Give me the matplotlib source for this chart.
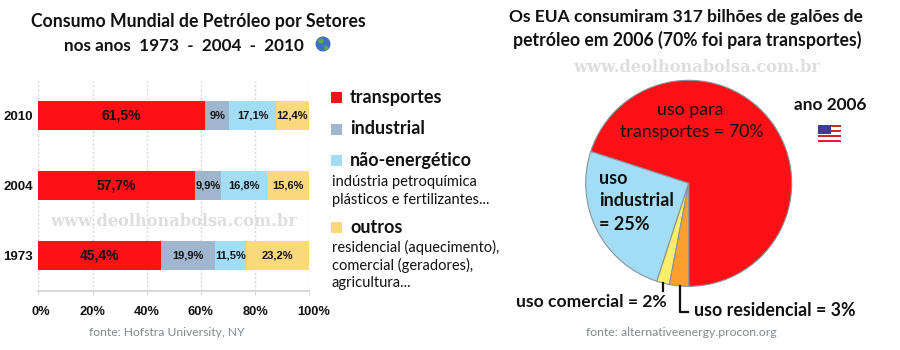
import matplotlib
matplotlib.use("Agg")
import matplotlib.pyplot as plt
from matplotlib.patches import Circle, Ellipse, Rectangle
from matplotlib.transforms import ScaledTranslation

W, H = 900, 350

# grafico de barras
anos = ["1973", "2004", "2010"]
setores = ["transportes", "industrial", "não-energético", "outros"]
transportes = [45.4, 57.7, 61.5]
industrial = [19.9, 9.9, 9.0]
nao_energetico = [11.5, 16.8, 17.1]
outros = [23.2, 15.6, 12.4]
rotulos_barras = [
    ["45,4%", "57,7%", "61,5%"],
    ["19,9%", "9,9%", "9%"],
    ["11,5%", "16,8%", "17,1%"],
    ["23,2%", "15,6%", "12,4%"],
]
ticks_x = [0, 20, 40, 60, 80, 100]

# grafico de pizza
usos_eua = [70, 25, 2, 3]

VERMELHO = "#FF0F16"
CINZA_AZUL = "#A0B6CE"
AZUL_CLARO = "#A3DCF5"
AMARELO = "#FAD87C"
COR_FONTE = "#808890"
COR_MARCA = "#DEDEDE"

TEXTO = ["Lato", "DejaVu Sans"]
ESTREITA = ["Liberation Sans"]
SERIFA = ["DejaVu Serif"]


def eixo_px(fig, x0, y0, x1, y1):
    """Cria eixo a partir de pixels (origem no canto superior esquerdo)."""
    return fig.add_axes([x0 / W, 1 - y1 / H, (x1 - x0) / W, (y1 - y0) / H])


fig = plt.figure(figsize=(W / 100, H / 100), dpi=100, facecolor="white")

# ---------------------------------------------------------------------------
# Barras empilhadas
# ---------------------------------------------------------------------------
ax = eixo_px(fig, 38.3, 80.5, 309.3, 291)
ax.set_xlim(0, 100)
ax.set_ylim(-0.5, 2.5)
ax.set_axisbelow(True)
ax.xaxis.grid(True, color="#D8D8D8", linestyle=(0, (1.5, 1.5)), linewidth=1)

series = [transportes, industrial, nao_energetico, outros]
cores = [VERMELHO, CINZA_AZUL, AZUL_CLARO, AMARELO]
base = [0, 0, 0]
for i, (valores, cor) in enumerate(zip(series, cores)):
    ax.barh(range(3), valores, left=base, height=0.414, color=cor)
    for j, v in enumerate(valores):
        ax.text(base[j] + v / 2, j, rotulos_barras[i][j], ha="center", va="center",
                family=ESTREITA, fontweight="bold", color="#111111",
                fontsize=10 if i == 0 else 8)
    base = [b + v for b, v in zip(base, valores)]

for lado in ["top", "left", "right"]:
    ax.spines[lado].set_visible(False)
ax.spines["bottom"].set_color("#D8D8D8")
ax.spines["bottom"].set_linewidth(1.5)
ax.set_xticks(ticks_x)
ax.set_xticklabels([f"{t}%" for t in ticks_x], family=ESTREITA, fontweight="bold",
                   fontsize=9.3, color="#111111")
ax.set_yticks(range(3))
ax.set_yticklabels(anos, family=ESTREITA, fontweight="bold", fontsize=9.5, color="#111111")
ax.tick_params(axis="x", length=3, color="#D8D8D8", pad=8)
ax.tick_params(axis="y", length=0, pad=4)
# rotulos extremos do eixo levemente deslocados, como no original
for rotulo, dx in zip(ax.get_xticklabels(), [3, 0, 0, 0, 0, 4]):
    rotulo.set_transform(rotulo.get_transform() + ScaledTranslation(dx / 100, 0, fig.dpi_scale_trans))

# ---------------------------------------------------------------------------
# Pizza EUA
# ---------------------------------------------------------------------------
ax_pizza = eixo_px(fig, 585.7, 80.3, 791.7, 286.3)
ax_pizza.pie(usos_eua, colors=[VERMELHO, AZUL_CLARO, "#FBEE6B", "#FD9F2F"], startangle=-90,
             counterclock=True, radius=1,
             wedgeprops={"edgecolor": "#8A9299", "linewidth": 0.8})
ax_pizza.set_xlim(-1, 1)
ax_pizza.set_ylim(-1, 1)

# ---------------------------------------------------------------------------
# Camada de textos e icones, em pixels
# ---------------------------------------------------------------------------
cam = fig.add_axes([0, 0, 1, 1], facecolor="none")
cam.set_xlim(0, W)
cam.set_ylim(H, 0)
cam.axis("off")


def txt(x, y, s, size=12, weight="bold", ha="left", color="#111111", family=TEXTO):
    cam.text(x, y, s, fontsize=size, fontweight=weight, ha=ha, va="center",
             color=color, family=family)


txt(198, 22, "Consumo Mundial de Petróleo por Setores", 12.7, ha="center")
txt(184, 46, "nos anos  1973  -  2004  -  2010", 12.3, ha="center")
txt(685.5, 17, "Os EUA consumiram 317 bilhões de galões de", 12.55, ha="center")
txt(687, 40, "petróleo em 2006 (70% foi para transportes)", 12.7, ha="center")

# legenda
for y, nome, cor in zip([97.5, 129, 160.5, 227.5], setores, cores):
    cam.add_patch(Rectangle((331, y - 5.5), 11, 11, color=cor, lw=0))
    txt(350, y, nome, 13)
for y, s in zip([182, 200], ["indústria petroquímica", "plásticos e fertilizantes..."]):
    txt(332, y, s, 10.5, weight="normal")
for y, s in zip([247, 265, 283], ["residencial (aquecimento),", "comercial (geradores),", "agricultura..."]):
    txt(332, y, s, 10.5, weight="normal")

txt(167, 332, "fonte: Hofstra University, NY", 8.7, weight="normal", ha="center", color=COR_FONTE)
txt(681, 333, "fonte: alternativeenergy.procon.org", 8.8, weight="normal", ha="center", color=COR_FONTE)

# marca d'agua
txt(174, 222, "www.deolhonabolsa.com.br", 11.7, ha="center", color=COR_MARCA, family=SERIFA)
txt(697, 67, "www.deolhonabolsa.com.br", 11.7, ha="center", color=COR_MARCA, family=SERIFA)

# rotulos da pizza
txt(690, 110, "uso para", 12.8, ha="center", weight="normal")
txt(692, 132, "transportes = 70%", 12.8, ha="center", weight="normal")
txt(599, 178, "uso", 13)
txt(599, 201, "industrial", 13)
txt(599, 224, "= 25%", 13)
txt(830, 105, "ano 2006", 12.4, ha="center")
txt(516, 302, "uso comercial = 2%", 12.6)
txt(694, 311, "uso residencial = 3%", 12.75)

# linhas de chamada
cam.plot([662.7, 662.7], [283, 291], color="#111111", lw=1.6)
cam.plot([680, 680, 688], [286, 311.5, 311.5], color="#111111", lw=1.6)

# icone globo
cam.add_patch(Circle((323, 44), 7.5, color="#3F6FC4", lw=0))
cam.add_patch(Ellipse((321, 41), 6, 5, color="#5FA84A", lw=0))
cam.add_patch(Ellipse((326, 48), 4, 5, color="#5FA84A", lw=0))

# icone bandeira
for k in range(7):
    cam.add_patch(Rectangle((818, 125 + k * 17 / 7), 22.5, 17 / 7,
                            color="#D8232A" if k % 2 == 0 else "white", lw=0))
cam.add_patch(Rectangle((818, 125), 13, 9, color="#3C3F8F", lw=0))

fig.savefig("out.png", dpi=100)
